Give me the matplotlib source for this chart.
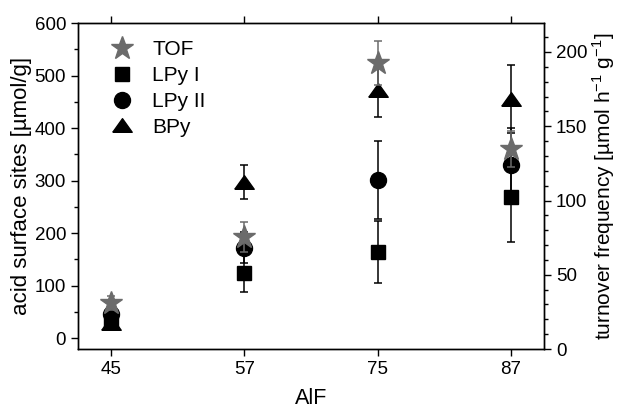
import numpy as np
import matplotlib
matplotlib.use('Agg')
import matplotlib.pyplot as plt
from matplotlib.ticker import MultipleLocator

plt.rcParams['font.family'] = ['Liberation Sans', 'DejaVu Sans']
plt.rcParams['mathtext.fontset'] = 'custom'
plt.rcParams['mathtext.rm'] = 'Liberation Sans'

# AlF content, categorical positions
aif_labels = ['45', '57', '75', '87']

# acid surface sites [umol/g] (left axis)
lpy1 = [30, 124, 164, 268]
lpy1_err = [15, 36, 59, 85]
lpy2 = [45, 172, 301, 330]
lpy2_err = [10, 30, 74, 70]
bpy = [28, 297, 472, 455]
bpy_err = [10, 32, 51, 65]

# turnover frequency (right axis)
tof = [31, 75.4, 192.6, 134.7]
tof_err = [5, 10, 15, 12]

x = np.arange(len(aif_labels))
grey = '#6b6b6b'
# wide, flat triangle like the original
tri = [(-1, -0.7), (1, -0.7), (0, 0.7), (-1, -0.7)]

fig = plt.figure(figsize=(6.17, 4.04), dpi=100)
ax = fig.add_axes([0.1264, 0.136, 0.7553, 0.807])

ekw = dict(ecolor='black', elinewidth=1.1, capsize=3, capthick=1.1, linestyle='none')
h1 = ax.errorbar(x, lpy1, yerr=lpy1_err, marker='s', ms=9.8, color='black', **ekw)
h2 = ax.errorbar(x, lpy2, yerr=lpy2_err, marker='o', ms=11.5, color='black', **ekw)
h3 = ax.errorbar(x, bpy, yerr=bpy_err, marker=tri, ms=14, color='black', **ekw)

ax.set_xlim(-0.25, 3.25)
ax.set_ylim(-21, 600)
ax.set_xticks(x)
ax.set_xticklabels(aif_labels)
ax.yaxis.set_major_locator(MultipleLocator(100))
ax.yaxis.set_minor_locator(MultipleLocator(50))
ax.tick_params(axis='both', which='major', direction='out', length=5, width=1, labelsize=13.5)
ax.tick_params(axis='y', which='minor', direction='out', length=3, width=1)
ax.tick_params(axis='x', top=True)
ax.set_xlabel('AlF', fontsize=15.5, labelpad=7)
ax.set_ylabel('acid surface sites [\u00b5mol/g]', fontsize=16, labelpad=2)

ax2 = ax.twinx()
h0 = ax2.errorbar(x, tof, yerr=tof_err, marker='*', ms=17, color=grey,
                  ecolor=grey, elinewidth=1.1, capsize=3, capthick=1.1, linestyle='none')
ax2.set_ylim(0, 219.5)
ax2.yaxis.set_major_locator(MultipleLocator(50))
ax2.yaxis.set_minor_locator(MultipleLocator(10))
ax2.tick_params(axis='y', which='major', direction='out', length=5, width=1, labelsize=13.5)
ax2.tick_params(axis='y', which='minor', direction='out', length=3, width=1)
ax2.set_ylabel('turnover frequency [\u00b5mol h$^{-1}$ g$^{-1}$]', fontsize=15, labelpad=2)

for a in (ax, ax2):
    for s in a.spines.values():
        s.set_linewidth(1)

handles = [h0[0], h1[0], h2[0], h3[0]]
ax2.legend(handles, ['TOF', 'LPy I', 'LPy II', 'BPy'], loc='upper left',
           bbox_to_anchor=(0.05, 0.973), frameon=False, fontsize=15,
           handlelength=1.2, handletextpad=0.85, labelspacing=0.33, borderaxespad=0)

fig.savefig('out.png', dpi=100)
